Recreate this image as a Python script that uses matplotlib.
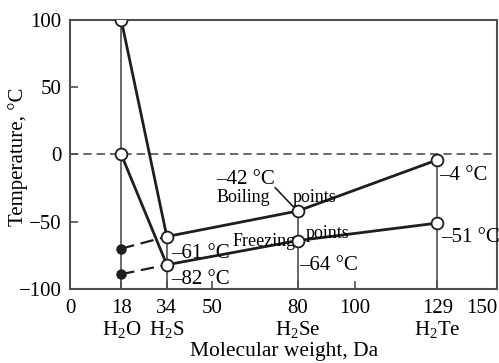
import matplotlib
matplotlib.use('Agg')
import matplotlib.pyplot as plt
import numpy as np

plt.rcParams['font.family'] = ['Liberation Serif', 'DejaVu Serif']
plt.rcParams['mathtext.fontset'] = 'custom'
plt.rcParams['mathtext.rm'] = 'Liberation Serif'
plt.rcParams['mathtext.it'] = 'Liberation Serif'

### data
mw = [18, 34, 80, 129]
compounds = ['H$_2$O', 'H$_2$S', 'H$_2$Se', 'H$_2$Te']
boiling = [100, -61, -42, -4]
freezing = [0, -82, -64, -51]
# extrapolated values for water (filled dots)
boil_extrap = -70
freeze_extrap = -89

xticks = [0, 18, 34, 50, 80, 100, 129, 150]
xticklabels = ['0', '18\n' + compounds[0], '34\n' + compounds[1], '50',
               '80\n' + compounds[2], '100', '129\n' + compounds[3], '150']

dark = '#1e1e1e'
spine_col = '#505050'

fig = plt.figure(figsize=(4.99, 3.63), dpi=100)
ax = fig.add_axes([0.1403, 0.2039, 0.856, 0.741])

ax.axhline(0, color=spine_col, lw=1.2, ls='--', dashes=(5, 3), zorder=1)
ax.vlines(mw, -100, boiling, color=spine_col, lw=1.2, zorder=1)

# dashed extrapolation
ax.plot([mw[0], mw[1]], [boil_extrap, boiling[1]], color=dark, lw=1.6,
        ls='--', dashes=(6, 3), zorder=2)
ax.plot([mw[0], mw[1]], [freeze_extrap, freezing[1]], color=dark, lw=1.6,
        ls='--', dashes=(6, 3), zorder=2)
ax.plot([mw[0], mw[0]], [boil_extrap, freeze_extrap], 'o', color=dark,
        ms=6.5, ls='none', zorder=4)

ax.plot(mw, boiling, color=dark, lw=2, zorder=3)
ax.plot(mw, freezing, color=dark, lw=2, zorder=3)
ax.plot(mw, boiling, 'o', ms=8.5, mfc='white', mec=dark, mew=1.3, zorder=5)
ax.plot(mw, freezing, 'o', ms=8.5, mfc='white', mec=dark, mew=1.3, zorder=5)

ax.set_xlim(0, 150)
ax.set_ylim(-100, 100)
ax.set_xticks(xticks)
ax.set_xticklabels(xticklabels, fontsize=15, linespacing=1.1)
ax.get_xticklabels()[-1].set_horizontalalignment('right')
ax.set_yticks([-100, -50, 0, 50, 100])
ax.tick_params(direction='in', length=6, width=1.2, color=spine_col,
               labelsize=15)
ax.tick_params(axis='x', pad=7)
ax.tick_params(axis='y', pad=6)
for s in ax.spines.values():
    s.set_color(spine_col)
    s.set_linewidth(1.5)

ax.set_xlabel('Molecular weight, Da', fontsize=15.5, labelpad=1)
ax.set_ylabel('Temperature, \u00b0C', fontsize=15)
ax.yaxis.set_label_coords(-0.098, 0.49)

fv = 15  # value labels
fw = 13  # word labels
ax.annotate('\u201342 \u00b0C', (mw[2], boiling[2]), xytext=(-82, 31),
            textcoords='offset pixels', fontsize=fv, va='center')
ax.annotate('Boiling', (mw[2], boiling[2]), xytext=(-81, 13),
            textcoords='offset pixels', fontsize=fw, va='center')
ax.annotate('points', (mw[2], boiling[2]), xytext=(-5, 13),
            textcoords='offset pixels', fontsize=fw, va='center')
ax.annotate('', (mw[2] - 1.3, boiling[2] + 2.5), xytext=(-19, 20),
            textcoords='offset pixels',
            arrowprops=dict(arrowstyle='-', color=dark, lw=1.2,
                            shrinkA=0, shrinkB=0))
ax.annotate('Freezing', (mw[1], boiling[1]), xytext=(66, -5),
            textcoords='offset pixels', fontsize=fw, va='center')
ax.annotate('points', (mw[2], freezing[2]), xytext=(8, 7),
            textcoords='offset pixels', fontsize=fw, va='center')
ax.annotate('\u201361 \u00b0C', (mw[1], boiling[1]), xytext=(4, -17),
            textcoords='offset pixels', fontsize=fv, va='center')
ax.annotate('\u201382 \u00b0C', (mw[1], freezing[1]), xytext=(4, -15),
            textcoords='offset pixels', fontsize=fv, va='center')
ax.annotate('\u201364 \u00b0C', (mw[2], freezing[2]), xytext=(1, -25),
            textcoords='offset pixels', fontsize=fv, va='center')
ax.annotate('\u201351 \u00b0C', (mw[3], freezing[3]), xytext=(4, -14),
            textcoords='offset pixels', fontsize=fv, va='center')
ax.annotate('\u20134 \u00b0C', (mw[3], boiling[3]), xytext=(2, -16),
            textcoords='offset pixels', fontsize=fv, va='center')

fig.savefig('out.png', dpi=100)
